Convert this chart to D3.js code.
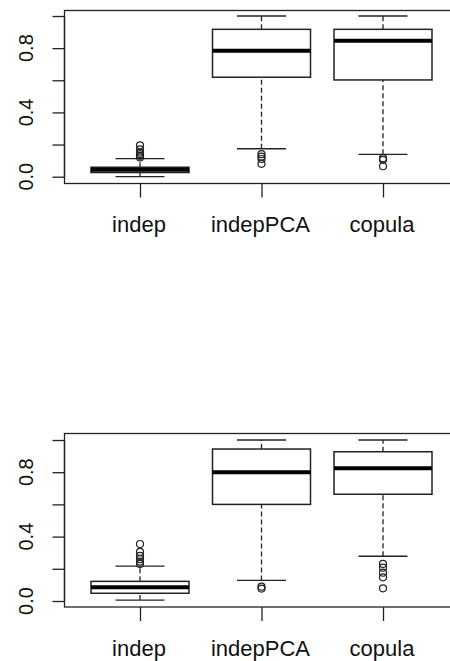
<!DOCTYPE html>
<html>
<head>
<meta charset="utf-8">
<script src="https://cdn.jsdelivr.net/npm/d3@7"></script>
<style>
body { margin: 0; background: #fff; }
svg { display: block; }
text { font-family: "Liberation Sans", Arial, sans-serif; fill: #111; }
</style>
</head>
<body>
<div id="chart"></div>
<script>
// categories and tick labels
var categories = ["indep", "indepPCA", "copula"];
var yTicks = [0, 0.2, 0.4, 0.6, 0.8, 1.0];
var yTickLabels = ["0.0", "", "0.4", "", "0.8", ""];

// panel 1: [lower whisker, q1, median, q3, upper whisker]
var statsTop = [
	[0.0, 0.026, 0.044, 0.059, 0.112],
	[0.174, 0.619, 0.784, 0.917, 1.0],
	[0.139, 0.602, 0.846, 0.917, 1.0]
];
var outliersTop = [
	[0.12, 0.13, 0.14, 0.15, 0.17, 0.195],
	[0.08, 0.11, 0.125, 0.14],
	[0.065, 0.105, 0.115]
];

// panel 2
var statsBottom = [
	[0.006, 0.048, 0.085, 0.122, 0.217],
	[0.128, 0.6, 0.8, 0.944, 1.0],
	[0.278, 0.663, 0.824, 0.927, 1.0]
];
var outliersBottom = [
	[0.23, 0.245, 0.26, 0.28, 0.305, 0.354],
	[0.077, 0.089],
	[0.079, 0.147, 0.176, 0.207, 0.23]
];

var width = 450, height = 661;
var svg = d3.select("#chart").append("svg")
	.attr("width", width)
	.attr("height", height);

var x = d3.scalePoint().domain(categories).range([140, 383]);
var boxW = 98;

drawPanel(statsTop, outliersTop, 10, 183, 176.7, 16);
drawPanel(statsBottom, outliersBottom, 433, 606.5, 601, 440);

function drawPanel(stats, outliers, top, bottom, y0, y1) {
	var y = d3.scaleLinear().domain([0, 1]).range([y0, y1]);
	var g = svg.append("g");

	// frame
	g.append("rect")
		.attr("x", 64.5).attr("y", top + 0.5)
		.attr("width", 400).attr("height", bottom - top)
		.attr("fill", "none").attr("stroke", "#222").attr("stroke-width", 1.3);

	// y axis
	var ya = g.append("g").attr("transform", "translate(64.5,0)")
		.call(d3.axisLeft(y).tickValues(yTicks).tickSize(12).tickFormat(""));
	ya.select(".domain").attr("stroke", "#222").attr("stroke-width", 1.3)
		.attr("d", "M0," + y(0) + "V" + y(1));
	ya.selectAll(".tick line").attr("stroke", "#222").attr("stroke-width", 1.3);
	g.selectAll(".ylab").data(yTicks).enter().append("text")
		.attr("transform", function(d) { return "translate(33," + y(d) + ") rotate(-90)"; })
		.attr("text-anchor", "middle")
		.style("font-size", "20px")
		.text(function(d, i) { return yTickLabels[i]; });

	// x axis ticks
	var xa = g.append("g").attr("transform", "translate(0," + (bottom + 0.5) + ")")
		.call(d3.axisBottom(x).tickSize(14).tickFormat(""));
	xa.select(".domain").remove();
	xa.selectAll(".tick line").attr("stroke", "#222").attr("stroke-width", 1.3);
	g.selectAll(".xlab").data(categories).enter().append("text")
		.attr("x", function(d) { return x(d) - 1; })
		.attr("y", bottom + 49)
		.attr("text-anchor", "middle")
		.style("font-size", "22px")
		.text(function(d) { return d; });

	// boxes
	var b = g.selectAll(".box").data(stats).enter().append("g")
		.attr("transform", function(d, i) { return "translate(" + x(categories[i]) + ",0)"; });
	// whiskers
	b.append("line").attr("x1", 0).attr("x2", 0)
		.attr("y1", function(d) { return y(d[0]); }).attr("y2", function(d) { return y(d[1]); })
		.attr("stroke", "#222").attr("stroke-width", 1.3).attr("stroke-dasharray", "5,3");
	b.append("line").attr("x1", 0).attr("x2", 0)
		.attr("y1", function(d) { return y(d[3]); }).attr("y2", function(d) { return y(d[4]); })
		.attr("stroke", "#222").attr("stroke-width", 1.3).attr("stroke-dasharray", "5,3");
	// staples
	[0, 4].forEach(function(k) {
		b.append("line").attr("x1", -boxW / 4).attr("x2", boxW / 4)
			.attr("y1", function(d) { return y(d[k]); }).attr("y2", function(d) { return y(d[k]); })
			.attr("stroke", "#222").attr("stroke-width", 1.3);
	});
	b.append("rect")
		.attr("x", -boxW / 2).attr("width", boxW)
		.attr("y", function(d) { return y(d[3]); })
		.attr("height", function(d) { return y(d[1]) - y(d[3]); })
		.attr("fill", "#fff").attr("stroke", "#222").attr("stroke-width", 1.5);
	b.append("line").attr("x1", -boxW / 2).attr("x2", boxW / 2)
		.attr("y1", function(d) { return y(d[2]); }).attr("y2", function(d) { return y(d[2]); })
		.attr("stroke", "#000").attr("stroke-width", 4);

	// outliers
	outliers.forEach(function(vals, i) {
		g.selectAll(null).data(vals).enter().append("circle")
			.attr("cx", x(categories[i]))
			.attr("cy", function(d) { return y(d); })
			.attr("r", 3.5)
			.attr("fill", "none").attr("stroke", "#222").attr("stroke-width", 1.2);
	});
}
</script>
</body>
</html>
